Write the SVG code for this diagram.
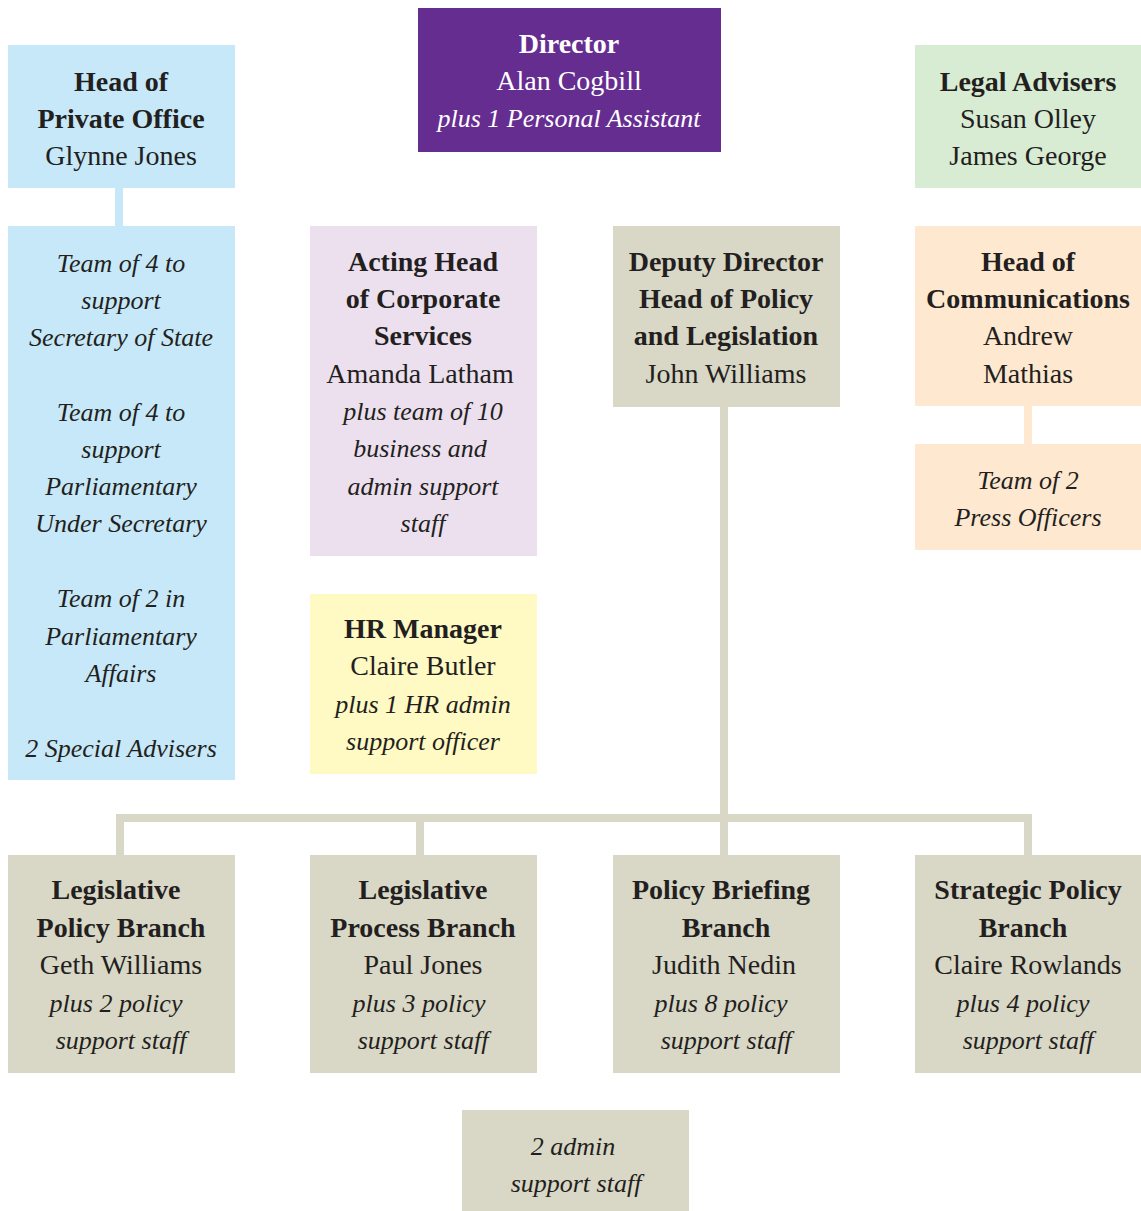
<svg xmlns="http://www.w3.org/2000/svg" width="1141" height="1211" viewBox="0 0 1141 1211">
<style>
text{font-family:"Liberation Serif","DejaVu Serif",serif;fill:#231f20;text-anchor:middle;font-size:28px}
.b{font-weight:bold}
.i{font-style:italic;font-size:26px}
.w{fill:#ffffff}
.blue{fill:#c7e8f8}.purple{fill:#662d91}.green{fill:#d8ebd3}.lav{fill:#ece0ef}.tan{fill:#d9d7c6}.peach{fill:#fee8d0}.yellow{fill:#fff9c4}
.con{fill:none;stroke-width:8}
</style>
<rect width="1141" height="1211" fill="#ffffff"/>
<g id="connectors">
<line class="con" x1="119" y1="188" x2="119" y2="226" stroke="#c7e8f8"/>
<line class="con" x1="1028" y1="406" x2="1028" y2="444" stroke="#fee8d0"/>
<path class="con" d="M724 407V855M120 855V818H1028V855M420 818V855" stroke="#d9d7c6"/>
</g>
<g id="director">
<rect class="purple" x="418" y="8" width="303" height="144"/>
<text class="b w" x="569" y="53">Director</text>
<text class="w" x="569" y="90">Alan Cogbill</text>
<text class="i w" x="569" y="127">plus 1 Personal Assistant</text>
</g>
<g id="head-private-office">
<rect class="blue" x="8" y="45" width="227" height="143"/>
<text class="b" x="121" y="91">Head of</text>
<text class="b" x="121" y="128">Private Office</text>
<text x="121" y="165">Glynne Jones</text>
</g>
<g id="private-office-teams">
<rect class="blue" x="8" y="226" width="227" height="554"/>
<text class="i" x="121" y="272">Team of 4 to</text>
<text class="i" x="121" y="309">support</text>
<text class="i" x="121" y="346">Secretary of State</text>
<text class="i" x="121" y="421">Team of 4 to</text>
<text class="i" x="121" y="458">support</text>
<text class="i" x="121" y="495">Parliamentary</text>
<text class="i" x="121" y="532">Under Secretary</text>
<text class="i" x="121" y="607">Team of 2 in</text>
<text class="i" x="121" y="645">Parliamentary</text>
<text class="i" x="121" y="682">Affairs</text>
<text class="i" x="121" y="757">2 Special Advisers</text>
</g>
<g id="legal-advisers">
<rect class="green" x="915" y="45" width="226" height="143"/>
<text class="b" x="1028" y="91">Legal Advisers</text>
<text x="1028" y="128">Susan Olley</text>
<text x="1028" y="165">James George</text>
</g>
<g id="corporate-services">
<rect class="lav" x="310" y="226" width="227" height="330"/>
<text class="b" x="423" y="271">Acting Head</text>
<text class="b" x="423" y="308">of Corporate</text>
<text class="b" x="423" y="345">Services</text>
<text x="420" y="383">Amanda Latham</text>
<text class="i" x="423" y="420">plus team of 10</text>
<text class="i" x="420" y="457">business and</text>
<text class="i" x="423" y="495">admin support</text>
<text class="i" x="423" y="532">staff</text>
</g>
<g id="deputy-director">
<rect class="tan" x="613" y="226" width="227" height="181"/>
<text class="b" x="726" y="271">Deputy Director</text>
<text class="b" x="726" y="308">Head of Policy</text>
<text class="b" x="726" y="345">and Legislation</text>
<text x="726" y="383">John Williams</text>
</g>
<g id="head-communications">
<rect class="peach" x="915" y="226" width="226" height="180"/>
<text class="b" x="1028" y="271">Head of</text>
<text class="b" x="1028" y="308">Communications</text>
<text x="1028" y="345">Andrew</text>
<text x="1028" y="383">Mathias</text>
</g>
<g id="press-officers">
<rect class="peach" x="915" y="444" width="226" height="106"/>
<text class="i" x="1028" y="489">Team of 2</text>
<text class="i" x="1028" y="526">Press Officers</text>
</g>
<g id="hr-manager">
<rect class="yellow" x="310" y="594" width="227" height="180"/>
<text class="b" x="423" y="638">HR Manager</text>
<text x="423" y="675">Claire Butler</text>
<text class="i" x="423" y="713">plus 1 HR admin</text>
<text class="i" x="423" y="750">support officer</text>
</g>
<g id="legislative-policy">
<rect class="tan" x="8" y="855" width="227" height="218"/>
<text class="b" x="116" y="899">Legislative</text>
<text class="b" x="121" y="937">Policy Branch</text>
<text x="121" y="974">Geth Williams</text>
<text class="i" x="116" y="1012">plus 2 policy</text>
<text class="i" x="121" y="1049">support staff</text>
</g>
<g id="legislative-process">
<rect class="tan" x="310" y="855" width="227" height="218"/>
<text class="b" x="423" y="899">Legislative</text>
<text class="b" x="423" y="937">Process Branch</text>
<text x="423" y="974">Paul Jones</text>
<text class="i" x="419" y="1012">plus 3 policy</text>
<text class="i" x="423" y="1049">support staff</text>
</g>
<g id="policy-briefing">
<rect class="tan" x="613" y="855" width="227" height="218"/>
<text class="b" x="721" y="899">Policy Briefing</text>
<text class="b" x="726" y="937">Branch</text>
<text x="724" y="974">Judith Nedin</text>
<text class="i" x="721" y="1012">plus 8 policy</text>
<text class="i" x="726" y="1049">support staff</text>
</g>
<g id="strategic-policy">
<rect class="tan" x="915" y="855" width="226" height="218"/>
<text class="b" x="1028" y="899">Strategic Policy</text>
<text class="b" x="1023" y="937">Branch</text>
<text x="1028" y="974">Claire Rowlands</text>
<text class="i" x="1023" y="1012">plus 4 policy</text>
<text class="i" x="1028" y="1049">support staff</text>
</g>
<g id="admin-support">
<rect class="tan" x="462" y="1110" width="227" height="101"/>
<text class="i" x="573" y="1155">2 admin</text>
<text class="i" x="576" y="1192">support staff</text>
</g>
</svg>
